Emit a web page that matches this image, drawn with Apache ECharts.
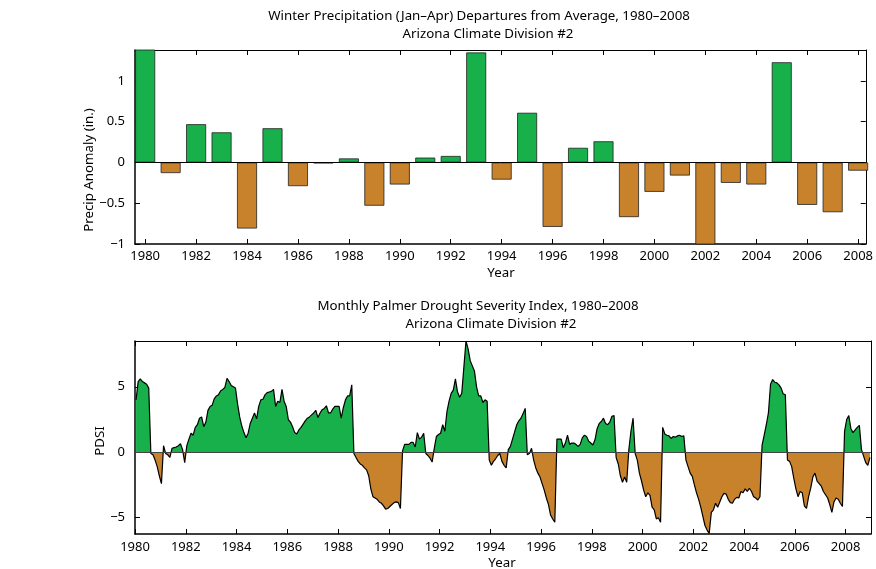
<!DOCTYPE html>
<html>
<head>
<meta charset="utf-8">
<title>Arizona Climate Division #2</title>
<script src="https://cdn.jsdelivr.net/npm/echarts@6/dist/echarts.min.js"></script>
<style>
html,body{margin:0;padding:0;background:#fff;}
#chart{width:876px;height:569px;}
</style>
</head>
<body>
<div id="chart"></div>
<script>
// winter (Jan-Apr) precipitation departures from average (in.)
const years = [1980,1981,1982,1983,1984,1985,1986,1987,1988,1989,1990,1991,1992,1993,1994,
  1995,1996,1997,1998,1999,2000,2001,2002,2003,2004,2005,2006,2007,2008];
const precipAnomaly = [1.6,-0.13,0.47,0.37,-0.81,0.42,-0.29,-0.01,0.05,-0.53,-0.27,0.06,0.08,1.35,-0.21,
  0.61,-0.79,0.18,0.26,-0.67,-0.36,-0.16,-1.1,-0.25,-0.27,1.23,-0.52,-0.61,-0.10];

// monthly PDSI, Jan 1980 .. Dec 2008, one row per year
const pdsiStartYear = 1980;
const pdsi = [
  4.0, 5.4, 5.6, 5.4, 5.3, 5.2, 4.9, -0.1, -0.2, -0.6, -1.1, -1.8,
  -2.4, 0.5, -0.1, -0.2, -0.4, 0.3, 0.35, 0.4, 0.5, 0.65, 0.2, -0.8,
  0.5, 1.0, 1.45, 1.3, 1.9, 2.1, 2.6, 2.7, 1.95, 2.3, 3.2, 3.5,
  3.6, 4.1, 4.3, 4.4, 4.7, 4.8, 4.95, 5.65, 5.4, 5.1, 5.0, 4.9,
  3.7, 2.7, 2.0, 1.5, 1.1, 1.45, 2.2, 2.6, 3.0, 2.55, 3.5, 4.0,
  4.05, 4.4, 4.55, 4.6, 4.65, 4.8, 3.5, 3.9, 3.8, 4.8, 3.9, 3.5,
  2.5, 2.3, 1.95, 1.5, 1.4, 1.7, 1.9, 2.15, 2.4, 2.6, 2.7, 2.85,
  3.0, 3.2, 2.65, 3.0, 3.25, 3.35, 3.55, 3.0, 3.0, 3.3, 3.5, 3.5,
  3.5, 2.6, 3.4, 4.0, 4.3, 4.3, 5.15, -0.1, -0.4, -0.7, -0.9, -1.0,
  -1.2, -1.35, -1.8, -2.8, -3.4, -3.5, -3.6, -3.8, -3.9, -4.1, -4.35, -4.3,
  -4.15, -4.0, -3.85, -3.8, -3.85, -4.3, 0.1, 0.6, 0.6, 0.6, 0.75, 0.75,
  0.4, 1.5, 1.0, 1.15, 1.45, -0.1, -0.25, -0.45, -0.75, 0.3, 1.2, 1.35,
  1.45, 2.1, 1.6, 3.1, 3.9, 4.5, 4.75, 5.6, 4.6, 4.2, 4.5, 6.5,
  8.5, 7.9, 7.0, 6.6, 6.2, 5.0, 4.3, 4.3, 3.8, 4.0, 3.9, -0.6,
  -1.0, -0.7, -0.5, -0.25, -0.1, -0.7, -1.0, -1.2, 0.2, 0.45, 1.0, 1.55,
  2.1, 2.4, 2.6, 2.95, 3.35, -0.2, -0.1, 0.3, -0.6, -1.2, -1.6, -1.9,
  -2.4, -2.9, -3.5, -4.0, -4.8, -5.1, -5.35, 1.0, 1.0, 1.0, 0.35, 0.7,
  1.3, 0.6, 0.7, 0.7, 0.6, 0.45, 0.6, 1.1, 1.3, 1.2, 0.85, 0.7,
  0.55, 0.95, 1.8, 2.2, 2.35, 2.6, 2.2, 2.1, 2.3, 2.75, 2.8, -0.4,
  -0.9, -1.8, -2.3, -1.9, -2.3, 0.2, 1.6, 2.6, -0.1, -0.6, -1.6, -2.2,
  -2.9, -3.4, -3.1, -3.3, -4.2, -4.4, -5.1, -5.0, -5.35, 1.9, 1.4, 1.3,
  1.25, 1.05, 1.2, 1.15, 1.25, 1.3, 1.2, 1.25, -0.6, -1.1, -1.6, -1.85,
  -2.5, -3.1, -3.6, -4.2, -4.9, -5.6, -5.95, -6.2, -4.6, -4.4, -3.9, -4.2,
  -3.8, -3.4, -3.15, -3.2, -3.6, -3.85, -3.9, -3.6, -3.45, -3.5, -3.0, -3.1,
  -2.8, -3.0, -2.75, -3.0, -3.4, -3.5, -3.65, -3.4, 0.55, 1.3, 2.1, 3.0,
  5.2, 5.55, 5.35, 5.3, 5.15, 4.9, 4.45, 4.4, -0.6, -0.7, -1.1, -2.0,
  -2.8, -3.4, -3.0, -3.1, -4.1, -4.3, -3.4, -2.75, -1.9, -1.6, -2.2, -2.4,
  -2.6, -3.0, -3.25, -3.5, -4.0, -4.6, -3.8, -3.5, -3.6, -3.9, -4.15, 1.6,
  2.5, 2.8, 1.8, 1.5, 1.7, 1.9, 2.05, 0.2, -0.3, -0.8, -1.0, -0.4
];

const yearTicks = [1980,1982,1984,1986,1988,1990,1992,1994,1996,1998,2000,2002,2004,2006,2008];
const precipTicks = [-1,-0.5,0,0.5,1];
const pdsiTicks = [-5,0,5];

const GREEN = '#17b04b';
const BROWN = '#c8822c';
const FONT = 'Noto Sans';

const chart = echarts.init(document.getElementById('chart'));

function minus(v){ return v < 0 ? '\u2212' + Math.abs(v) : String(v); }

function xAx(grid, pos, min, max, margin){
  const labels = pos === 'bottom';
  return {
    type:'value', gridIndex:grid, position:pos, min:min, max:max,
    axisLine:{show:true, onZero:false, lineStyle:{color:'#000', width: labels ? 1.5 : 1}},
    axisTick:{show:true, inside:true, length:5, customValues:yearTicks, lineStyle:{color:'#000'}},
    axisLabel:{show:labels, customValues:yearTicks, margin:margin, color:'#000',
      fontFamily:FONT, fontSize:13, formatter:v => String(v)},
    splitLine:{show:false}
  };
}
function yAx(grid, pos, min, max, ticks){
  const labels = pos === 'left';
  return {
    type:'value', gridIndex:grid, position:pos, min:min, max:max,
    axisLine:{show:true, onZero:false, lineStyle:{color:'#000', width: labels ? 1.5 : 1}},
    axisTick:{show:true, inside:true, length:5, customValues:ticks, lineStyle:{color:'#000'}},
    axisLabel:{show:labels, customValues:ticks, margin:10, color:'#000',
      fontFamily:FONT, fontSize:13, formatter:minus},
    splitLine:{show:false}
  };
}

function txt(x, y, s, rot){
  return {type:'text', x:x, y:y, rotation: rot || 0, silent:true,
    style:{text:s, fill:'#000', font:'13.3px "' + FONT + '"', textAlign:'center', textVerticalAlign:'middle'}};
}

const barData = years.map((y, i) => [y, precipAnomaly[i]]);
const pdsiData = pdsi.map((v, i) => [pdsiStartYear + (i + 0.5) / 12, v]);

chart.setOption({
  animation:false,
  textStyle:{fontFamily:FONT},
  grid:[
    {left:135, right:6, top:50, height:194},
    {left:135, right:5, top:341, height:193}
  ],
  xAxis:[
    xAx(0, 'bottom', 1979.6, 2008.3, 6),
    xAx(0, 'top', 1979.6, 2008.3, 6),
    xAx(1, 'bottom', 1980, 2009, 7),
    xAx(1, 'top', 1980, 2009, 7)
  ],
  yAxis:[
    yAx(0, 'left', -1, 1.38, precipTicks),
    yAx(0, 'right', -1, 1.38, precipTicks),
    yAx(1, 'left', -6.25, 8.5, pdsiTicks),
    yAx(1, 'right', -6.25, 8.5, pdsiTicks)
  ],
  visualMap:{
    show:false, type:'piecewise', seriesIndex:1, dimension:1,
    pieces:[{gt:0, lte:20, color:GREEN}, {gt:-20, lte:0, color:BROWN}]
  },
  series:[
    {
      name:'Precip Anomaly', type:'bar', xAxisIndex:0, yAxisIndex:0,
      data:barData, barWidth:20,
      itemStyle:{color:p => p.value[1] >= 0 ? GREEN : BROWN, borderColor:'#222', borderWidth:0.8},
      markLine:{silent:true, symbol:'none', label:{show:false},
        lineStyle:{color:'#000', width:1, type:'solid'}, data:[{yAxis:0}]}
    },
    {
      name:'PDSI', type:'line', xAxisIndex:2, yAxisIndex:2,
      data:pdsiData, showSymbol:false, symbol:'none',
      lineStyle:{color:'#000', width:1.2},
      areaStyle:{opacity:1},
      markLine:{silent:true, symbol:'none', label:{show:false},
        lineStyle:{color:'#444', width:1, type:'solid'}, data:[{yAxis:0}]}
    }
  ],
  graphic:[
    txt(479, 16, 'Winter Precipitation (Jan\u2013Apr) Departures from Average, 1980\u20132008'),
    txt(488, 34, 'Arizona Climate Division #2'),
    txt(89, 170, 'Precip Anomaly (in.)', -Math.PI/2 + Math.PI),
    txt(501, 273, 'Year'),
    txt(478, 306, 'Monthly Palmer Drought Severity Index, 1980\u20132008'),
    txt(491, 324, 'Arizona Climate Division #2'),
    txt(100, 441, 'PDSI', Math.PI/2),
    txt(502, 563, 'Year')
  ]
});
</script>
</body>
</html>
